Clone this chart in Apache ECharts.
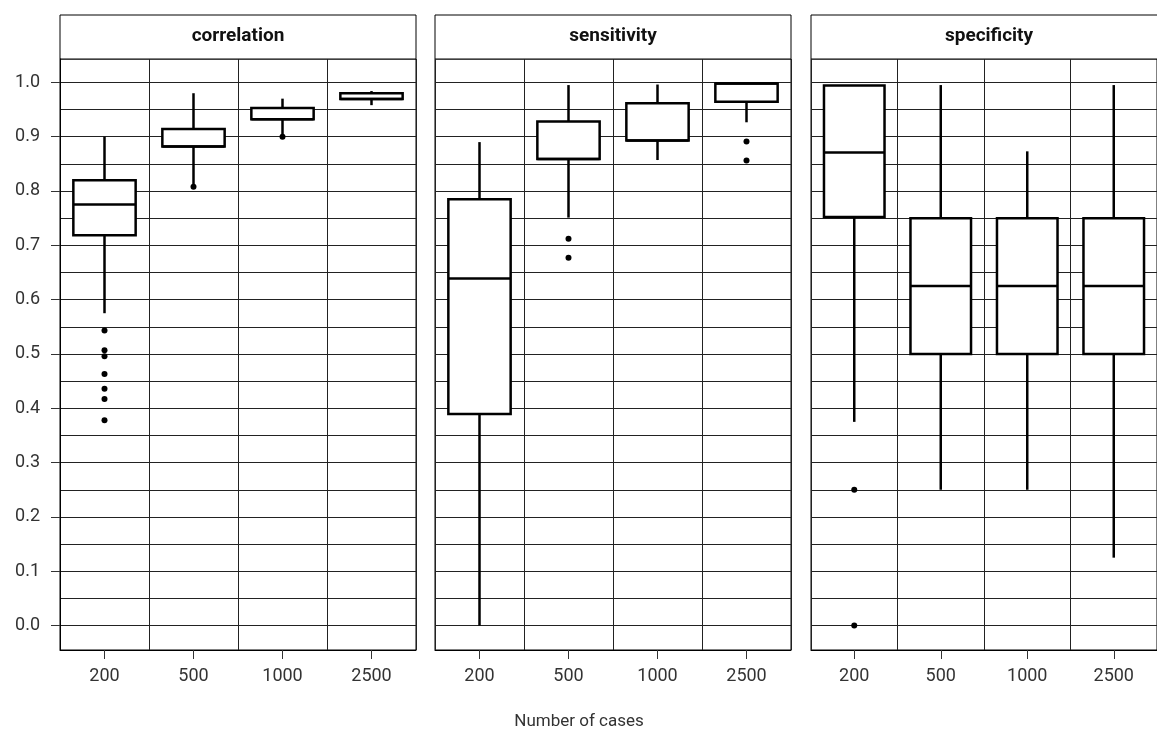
<!DOCTYPE html>
<html>
<head>
<meta charset="utf-8">
<title>Boxplots by number of cases</title>
<script src="https://cdn.jsdelivr.net/npm/echarts@6/dist/echarts.min.js"></script>
<style>
    html, body { margin: 0; padding: 0; background: #fff; }
    #chart { width: 1157px; height: 731px; }
</style>
</head>
<body>
<div id="chart"></div>
<script>
    // categories and panels
    var sizes = ['200', '500', '1000', '2500'];
    var panels = ['correlation', 'sensitivity', 'specificity'];

    // box stats per size: [lower whisker, Q1, median, Q3, upper whisker]
    var corrBox = [
        [0.575, 0.7185, 0.775, 0.820, 0.900],
        [0.812, 0.882, 0.882, 0.914, 0.980],
        [0.903, 0.932, 0.932, 0.953, 0.970],
        [0.958, 0.9695, 0.9695, 0.980, 0.984]
    ];
    var sensBox = [
        [0.000, 0.3895, 0.6387, 0.785, 0.890],
        [0.751, 0.859, 0.859, 0.928, 0.995],
        [0.857, 0.893, 0.893, 0.9615, 0.996],
        [0.9265, 0.9645, 0.998, 0.998, 0.998]
    ];
    var specBox = [
        [0.375, 0.752, 0.871, 0.994, 0.994],
        [0.250, 0.500, 0.625, 0.750, 0.995],
        [0.250, 0.500, 0.625, 0.750, 0.873],
        [0.125, 0.500, 0.625, 0.750, 0.995]
    ];

    // outliers per size
    var corrOut = [[0.543, 0.507, 0.496, 0.463, 0.436, 0.417, 0.378], [0.808], [0.900], []];
    var sensOut = [[], [0.712, 0.677], [], [0.891, 0.856]];
    var specOut = [[0.250, 0.000], [], [], []];

    // y axis tick labels and grid lines
    var yTicks = [0, 0.1, 0.2, 0.3, 0.4, 0.5, 0.6, 0.7, 0.8, 0.9, 1.0];
    var yGrid = [0, 0.05, 0.1, 0.15, 0.2, 0.25, 0.3, 0.35, 0.4, 0.45, 0.5,
                 0.55, 0.6, 0.65, 0.7, 0.75, 0.8, 0.85, 0.9, 0.95, 1.0];

    var boxes = [corrBox, sensBox, specBox];
    var outs = [corrOut, sensOut, specOut];

    var FONT = 'Roboto, "Noto Sans", sans-serif';
    var panelLeft = [60, 435, 811];
    var panelW = 356;
    var plotTop = 59, plotH = 591;
    var stripTop = 15, stripH = 44;
    var tickLen = 9;
    var yMin = -0.045, yMax = 1.043;

    var chart = echarts.init(document.getElementById('chart'), null, {renderer: 'canvas'});

    function renderBox(params, api) {
        var x = api.value(0);
        var lo = api.coord([x, api.value(1)]);
        var q1 = api.coord([x, api.value(2)]);
        var md = api.coord([x, api.value(3)]);
        var q3 = api.coord([x, api.value(4)]);
        var hi = api.coord([x, api.value(5)]);
        var half = api.size([1, 0])[0] * 0.35;
        var st = {stroke: '#000', lineWidth: 2.5, fill: null};
        return {
            type: 'group',
            children: [
                {type: 'line', shape: {x1: lo[0], y1: lo[1], x2: q1[0], y2: q1[1]}, style: st},
                {type: 'line', shape: {x1: hi[0], y1: hi[1], x2: q3[0], y2: q3[1]}, style: st},
                {type: 'rect', shape: {x: q3[0] - half, y: q3[1], width: half * 2, height: q1[1] - q3[1]},
                    style: {stroke: '#000', lineWidth: 2.5, fill: '#fff'}},
                {type: 'line', shape: {x1: md[0] - half, y1: md[1], x2: md[0] + half, y2: md[1]}, style: st}
            ]
        };
    }

    var grids = [], xAxes = [], yAxes = [], series = [], graphics = [];

    panels.forEach(function (name, i) {
        grids.push({
            left: panelLeft[i], top: plotTop, width: panelW, height: plotH,
            show: true, borderColor: '#000', borderWidth: 1, backgroundColor: '#fff'
        });
        xAxes.push({
            gridIndex: i,
            type: 'category',
            data: sizes,
            boundaryGap: true,
            position: 'bottom',
            axisLine: {show: true, onZero: false, lineStyle: {color: '#000', width: 1}},
            axisTick: {show: true, inside: false, alignWithLabel: true, length: tickLen, lineStyle: {color: '#333', width: 1}},
            axisLabel: {color: '#333', fontSize: 18, fontFamily: FONT, margin: 17},
            splitLine: {show: true, lineStyle: {color: '#222', width: 1}}
        });

        if (i === 0) {
            // left panel: labels on the left
            yAxes.push({
                gridIndex: 0,
                type: 'value',
                position: 'left',
                min: yMin, max: yMax,
                axisLine: {show: true, onZero: false, lineStyle: {color: '#000', width: 1}},
                axisTick: {show: true, inside: false, length: tickLen, customValues: yTicks, lineStyle: {color: '#333', width: 1}},
                axisLabel: {
                    customValues: yTicks,
                    color: '#333', fontSize: 18, fontFamily: FONT, margin: 20,
                    formatter: function (v) { return v.toFixed(1); }
                },
                splitLine: {show: false}
            });
        } else {
            yAxes.push({
                gridIndex: i,
                type: 'value',
                position: 'right',
                min: yMin, max: yMax,
                axisLine: {show: false},
                axisTick: {show: false, customValues: yGrid},
                axisLabel: {show: false},
                splitLine: {show: true, lineStyle: {color: '#222', width: 1}}
            });
        }

        var boxData = boxes[i].map(function (b, k) {
            return [k, b[0], b[1], b[2], b[3], b[4]];
        });
        series.push({
            type: 'custom',
            xAxisIndex: i, yAxisIndex: i,
            renderItem: renderBox,
            encode: {x: 0, y: [1, 2, 3, 4, 5]},
            data: boxData,
            z: 3
        });

        var pts = [];
        outs[i].forEach(function (list, k) {
            list.forEach(function (v) { pts.push([k, v]); });
        });
        series.push({
            type: 'scatter',
            xAxisIndex: i, yAxisIndex: i,
            symbol: 'circle', symbolSize: 6,
            itemStyle: {color: '#000', opacity: 1},
            data: pts,
            z: 4
        });

        // facet strip
        graphics.push({
            type: 'rect',
            shape: {x: panelLeft[i], y: stripTop, width: panelW, height: stripH},
            style: {fill: '#fff', stroke: '#000', lineWidth: 1}
        });
        graphics.push({
            type: 'text',
            x: panelLeft[i] + panelW / 2, y: stripTop + stripH / 2 - 1,
            style: {
                text: name, align: 'center', verticalAlign: 'middle',
                fontSize: 19, fontWeight: 'bold', fontFamily: FONT, fill: '#111'
            }
        });
    });

    // grid lines for the left panel, on a second axis kept on the right
    yAxes.push({
        gridIndex: 0,
        type: 'value',
        position: 'right',
        min: yMin, max: yMax,
        axisLine: {show: false},
        axisTick: {show: false, customValues: yGrid},
        axisLabel: {show: false},
        splitLine: {show: true, lineStyle: {color: '#222', width: 1}}
    });

    // narrow strip left of the first panel: its split lines act as the y tick marks
    grids.push({left: panelLeft[0] - tickLen, top: plotTop, width: tickLen, height: plotH, show: false});
    xAxes.push({gridIndex: 3, type: 'value', min: 0, max: 1, show: false});
    yAxes.push({
        gridIndex: 3,
        type: 'value',
        min: yMin, max: yMax,
        axisLine: {show: false},
        axisTick: {show: false, customValues: yTicks},
        axisLabel: {show: false},
        splitLine: {show: true, lineStyle: {color: '#333', width: 1}}
    });

    graphics.push({
        type: 'text',
        x: 579, y: 722,
        style: {
            text: 'Number of cases', align: 'center', verticalAlign: 'middle',
            fontSize: 17, fontFamily: FONT, fill: '#333'
        }
    });

    var option = {
        backgroundColor: '#fff',
        animation: false,
        grid: grids,
        xAxis: xAxes,
        yAxis: yAxes,
        series: series,
        graphic: graphics
    };
    chart.setOption(option);
</script>
</body>
</html>
